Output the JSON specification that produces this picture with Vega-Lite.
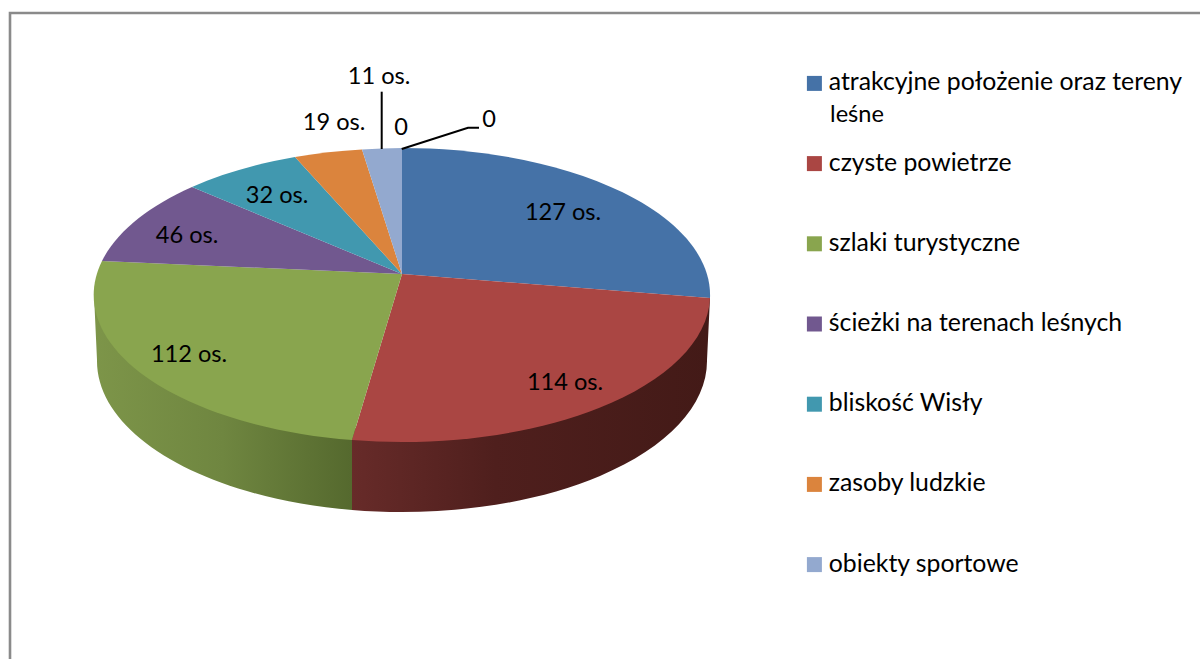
{
  "$schema": "https://vega.github.io/schema/vega-lite/v6.json",
  "width": 1200,
  "height": 659,
  "padding": 0,
  "autosize": {"type": "none"},
  "background": "white",
  "config": {"view": {"stroke": null}, "font": "Lato"},
  "datasets": {
    "slices": [
      {"rank": 1, "name": "atrakcyjne położenie oraz tereny", "value": 127, "label": "127 os."},
      {"rank": 2, "name": "czyste powietrze", "value": 114, "label": "114 os."},
      {"rank": 3, "name": "szlaki turystyczne", "value": 112, "label": "112 os."},
      {"rank": 4, "name": "ścieżki na terenach leśnych", "value": 46, "label": "46 os."},
      {"rank": 5, "name": "\u00a0bliskość Wisły", "value": 32, "label": "32 os."},
      {"rank": 6, "name": "zasoby ludzkie", "value": 19, "label": "19 os."},
      {"rank": 7, "name": "obiekty sportowe", "value": 11, "label": "11 os."},
      {"rank": 8, "name": "kategoria bez głosów 1", "value": 0, "label": "0"},
      {"rank": 9, "name": "kategoria bez głosów 2", "value": 0, "label": "0"}
    ]
  },
  "data": {"name": "slices"},
  "layer": [
    {
      "data": {"values": [{"part": "ramka"}]},
      "mark": {"type": "point", "shape": "M-590,340L-590,-316.5L610,-316.5", "size": 4, "filled": false, "fill": null, "stroke": "#8a8a8a", "strokeWidth": 2.6, "opacity": 1}
    },
    {
      "transform": [{"filter": "datum.rank === 2"}],
      "mark": {"type": "point", "shape": "M110,-31.5L107,30.5A305,151 0 0 1 -248,180.5L-248,100Z", "size": 4, "filled": true, "opacity": 1, "strokeWidth": 0,
        "fill": {"gradient": "linear", "x1": 0, "y1": 0, "x2": 1, "y2": 0, "stops": [{"offset": 0, "color": "#672b29"}, {"offset": 0.4, "color": "#4f1f1d"}, {"offset": 1, "color": "#431a17"}]}}
    },
    {
      "transform": [{"filter": "datum.rank === 3"}],
      "mark": {"type": "point", "shape": "M-248,100L-248,180.5A305,151 0 0 1 -503,30.5L-506,-34.5Z", "size": 4, "filled": true, "opacity": 1, "strokeWidth": 0,
        "fill": {"gradient": "linear", "x1": 0, "y1": 0, "x2": 1, "y2": 0, "stops": [{"offset": 0, "color": "#7d9549"}, {"offset": 0.5, "color": "#6f8640"}, {"offset": 1, "color": "#55692e"}]}}
    },
    {
      "transform": [{"filter": "datum.value > 0"}],
      "mark": {"type": "point", "size": 4, "filled": true, "opacity": 1, "strokeWidth": 0},
      "encoding": {
        "shape": {
          "field": "rank", "type": "ordinal", "legend": null,
          "scale": {
            "domain": [1, 2, 3, 4, 5, 6, 7],
            "range": [
              "M-198,-55.5L-198,-181.5A308,147 0 0 1 110,-31.5Z",
              "M-198,-55.5L110,-31.5A308,147 0 0 1 -248,110.5Z",
              "M-198,-55.5L-248,110.5A308,147 0 0 1 -498,-68.5Z",
              "M-198,-55.5L-498,-68.5A308,147 0 0 1 -408,-142.5Z",
              "M-198,-55.5L-408,-142.5A308,147 0 0 1 -305,-172.5Z",
              "M-198,-55.5L-305,-172.5A308,147 0 0 1 -238,-180Z",
              "M-198,-55.5L-238,-180A308,147 0 0 1 -198,-181.5Z"
            ]
          }
        },
        "color": {
          "field": "name", "type": "nominal",
          "scale": {
            "domain": ["atrakcyjne położenie oraz tereny", "czyste powietrze", "szlaki turystyczne", "ścieżki na terenach leśnych", "\u00a0bliskość Wisły", "zasoby ludzkie", "obiekty sportowe"],
            "range": ["#4572a7", "#aa4643", "#89a54e", "#71588f", "#4198af", "#db843d", "#93a9cf"]
          },
          "legend": {
            "orient": "none", "legendX": 802, "legendY": 71, "title": null,
            "symbolType": "square", "symbolSize": 225, "symbolStrokeWidth": 0, "symbolOpacity": 1,
            "labelFont": "Lato", "labelFontSize": 24.8, "labelColor": "black", "labelLimit": 400, "labelOffset": 2, "rowPadding": 54.2, "padding": 0
          }
        }
      }
    },
    {
      "transform": [{"filter": "datum.rank === 7"}],
      "mark": {"type": "point", "shape": "M-218.3,-237.8L-218.3,-180.5", "size": 4, "filled": false, "fill": null, "stroke": "black", "strokeWidth": 2, "opacity": 1}
    },
    {
      "transform": [{"filter": "datum.rank === 9"}],
      "mark": {"type": "point", "shape": "M-198.3,-180.5L-132,-201.8L-121,-201.8", "size": 4, "filled": false, "fill": null, "stroke": "black", "strokeWidth": 2, "opacity": 1}
    },
    {
      "data": {"values": [
        {"rank": 1, "label": "127 os."}, {"rank": 2, "label": "114 os."}, {"rank": 3, "label": "112 os."},
        {"rank": 4, "label": "46 os."}, {"rank": 5, "label": "32 os."}, {"rank": 6, "label": "19 os."},
        {"rank": 7, "label": "11 os."}, {"rank": 8, "label": "0"}, {"rank": 9, "label": "0"},
        {"rank": 10, "label": "leśne"}
      ]},
      "mark": {"type": "text", "font": "Lato", "fontSize": 23.6, "color": "black", "align": "center", "baseline": "middle"},
      "encoding": {
        "x": {"field": "rank", "type": "quantitative", "axis": null,
          "scale": {"domain": [1,2,3,4,5,6,7,8,9,10], "range": [563,565,189,187,277,334,379,401,489,857], "zero": false, "nice": false}},
        "y": {"field": "rank", "type": "quantitative", "axis": null,
          "scale": {"domain": [1,2,3,4,5,6,7,8,9,10], "range": [213,383,355,236,196,123,77,128,120,115], "zero": false, "nice": false}},
        "text": {"field": "label"}
      }
    }
  ]
}
